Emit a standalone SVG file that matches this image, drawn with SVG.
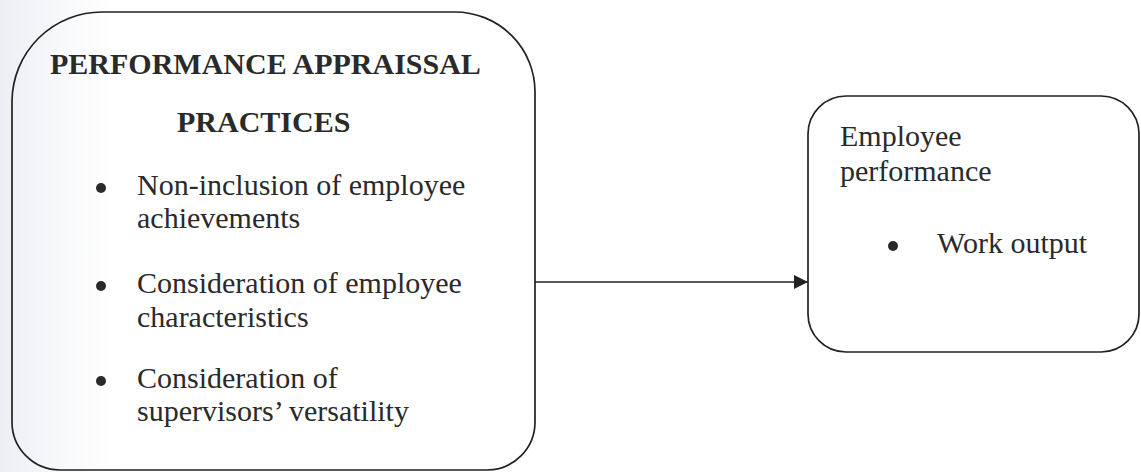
<svg xmlns="http://www.w3.org/2000/svg" width="1141" height="472" viewBox="0 0 1141 472">
<style>
.box{fill:none;stroke:#222;stroke-width:1.7}
.t{font-family:"Liberation Serif","Times New Roman",serif;font-size:30px;fill:#2a2a2a}
.b{font-weight:bold}
.dot{fill:#2a2a2a}
</style>
<defs>
<linearGradient id="scan" x1="0" y1="0" x2="1" y2="0">
<stop offset="0" stop-color="#eceef3"/>
<stop offset="0.05" stop-color="#f7f8fa"/>
<stop offset="0.1" stop-color="#ffffff"/>
<stop offset="1" stop-color="#ffffff"/>
</linearGradient>
<marker id="ah" viewBox="0 0 10 10" refX="10" refY="5" markerWidth="15" markerHeight="14" markerUnits="userSpaceOnUse" orient="auto">
<path d="M0,0 L10,5 L0,10 z" fill="#222"/>
</marker>
</defs>
<rect width="1141" height="472" fill="url(#scan)"/>
<g id="left-node">
<path class="box" d="M12,101 A90,90 0 0 1 102,12 L455,12 A80,80 0 0 1 535,92 L535,422 A48,48 0 0 1 487,470 L60,470 A48,48 0 0 1 12,422 Z"/>
<text class="t b" x="50" y="74">PERFORMANCE APPRAISSAL</text>
<text class="t b" x="177" y="132">PRACTICES</text>
<circle class="dot" cx="101" cy="188" r="5"/>
<text class="t" x="137" y="195">Non-inclusion of employee</text>
<text class="t" x="137" y="228">achievements</text>
<circle class="dot" cx="101" cy="286" r="5"/>
<text class="t" x="137" y="293">Consideration of employee</text>
<text class="t" x="137" y="327">characteristics</text>
<circle class="dot" cx="101" cy="381" r="5"/>
<text class="t" x="137" y="388">Consideration of</text>
<text class="t" x="137" y="421">supervisors’ versatility</text>
</g>
<g id="right-node">
<rect class="box" x="808" y="96" width="331" height="256" rx="38" ry="38"/>
<text class="t" x="840" y="146">Employee</text>
<text class="t" x="840" y="181">performance</text>
<circle class="dot" cx="893" cy="246" r="5"/>
<text class="t" x="937" y="253">Work output</text>
</g>
<g id="connectors">
<line x1="535" y1="282" x2="808" y2="282" stroke="#222" stroke-width="1.6" marker-end="url(#ah)"/>
</g>
</svg>
